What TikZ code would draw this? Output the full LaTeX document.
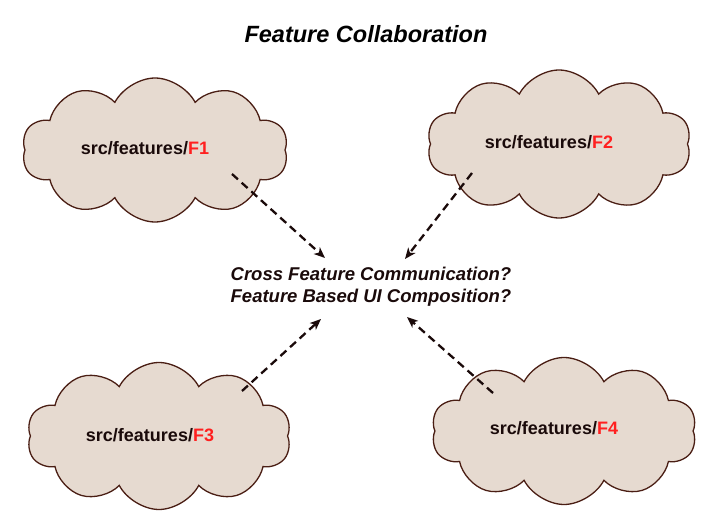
\documentclass[tikz,border=0pt]{standalone}
\usepackage{fontspec}
\setmainfont{Liberation Sans}
\usetikzlibrary{shapes.symbols,arrows.meta}
\definecolor{cloudfill}{HTML}{E6DAD0}
\definecolor{cloudline}{HTML}{4A1E14}
\definecolor{txt}{HTML}{1A0A0A}
\definecolor{fred}{HTML}{FF2020}
\tikzset{
  cloudbox/.style={shape=cloud, cloud puffs=10, cloud puff arc=125, aspect=1.8,
    fill=cloudfill, draw=cloudline, line width=1.3pt, inner sep=0pt},
  cloudtext/.style={font=\fontsize{18}{22}\selectfont\bfseries, text=txt},
  dep/.style={draw=txt, line width=2.3pt, dash pattern=on 8pt off 5pt,
    -{Stealth[length=11pt,width=9pt,inset=3pt]}},
}
\begin{document}
\begin{tikzpicture}[x=1pt,y=-1pt]
\useasboundingbox (0,0) rectangle (721,524);
\node[font=\fontsize{23.5}{26}\selectfont\bfseries\itshape, text=black] (title) at (366,34) {Feature Collaboration};
\node[cloudbox, minimum width=266pt, minimum height=144pt] (c1) at (155,150) {};
\node[cloudbox, minimum width=264pt, minimum height=148pt] (c2) at (559,144) {};
\node[cloudbox, minimum width=264pt, minimum height=147pt] (c3) at (159,436) {};
\node[cloudbox, minimum width=265pt, minimum height=147pt] (c4) at (564,431) {};
\node[cloudtext] (t1) at (145,148) {src/features/\textcolor{fred}{F1}};
\node[cloudtext] (t2) at (549,142) {src/features/\textcolor{fred}{F2}};
\node[cloudtext] (t3) at (150,435) {src/features/\textcolor{fred}{F3}};
\node[cloudtext] (t4) at (554,428) {src/features/\textcolor{fred}{F4}};
\node[font=\fontsize{18.5}{22}\selectfont\bfseries\itshape, text=txt, align=center] (mid) at (371,287) {Cross Feature Communication?\\Feature Based UI Composition?};
\coordinate (s1) at (232,174);
\coordinate (e1) at (325,258);
\coordinate (s2) at (472,173);
\coordinate (e2) at (405,259);
\coordinate (s3) at (242,391);
\coordinate (e3) at (321,319);
\coordinate (s4) at (493,393);
\coordinate (e4) at (407,317);
\draw[dep] (s1) -- (e1);
\draw[dep] (s2) -- (e2);
\draw[dep] (s3) -- (e3);
\draw[dep] (s4) -- (e4);
\end{tikzpicture}
\end{document}
